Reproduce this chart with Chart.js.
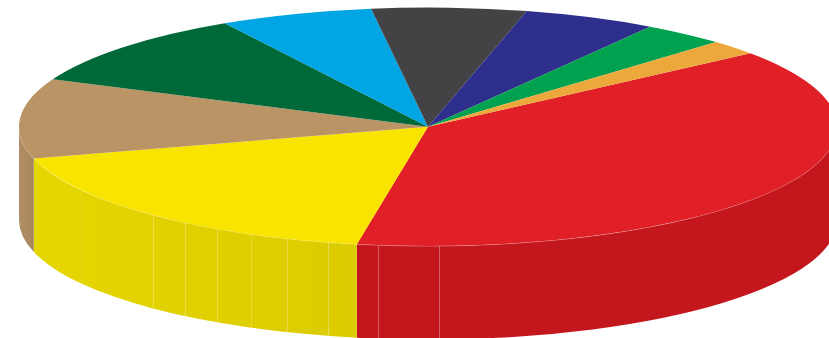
<!DOCTYPE html>
<html>
<head>
<meta charset="utf-8">
<style>
  html, body { margin: 0; padding: 0; background: #fff; overflow: hidden; }
  canvas { display: block; }
</style>
<script src="https://cdn.jsdelivr.net/npm/chart.js@4/dist/chart.umd.min.js"></script>
</head>
<body>
<canvas id="pie-3d" width="829" height="338"></canvas>
<script>
const categories = ["Slice 1", "Slice 2", "Slice 3", "Slice 4", "Slice 5", "Slice 6", "Slice 7", "Slice 8", "Slice 9"];
const shares = [38.3, 17.9, 10.8, 10.2, 6.05, 6.1, 5.25, 3.3, 2.0];
const topColors = ["#e01f26", "#f9e400", "#ba9465", "#00693a", "#00a5e3", "#434244", "#2e2f8c", "#00a24f", "#eda83c"];
const wallColors = [
  ["#c4171d", "#c4171d"],
  ["#dccb00", "#e6d600"],
  ["#a98860", "#b08e66"],
];
// vertical facet lines on the front wall, degrees clockwise from 3 o'clock
const seamAngles = [88.5, 97, 104.1, 110.1, 115.7, 121.1, 126.5, 132.2, 139.3, 148];
const seamAlphas = [0.3, 0.3, 0.3, 0.25, 0.2, 0.3, 0.3, 0.3, 0.06, 0.08];

const RADIUS = 409;
const TILT = 119.25 / 409;
const DEPTH = 93.5;

function toRad(deg) {
  return (deg * Math.PI) / 180;
}

// the front of the disc, from 0 to PI in canvas angles
function drawWalls(chart) {
  const ctx = chart.ctx;
  const arcs = chart.getDatasetMeta(0).data;
  const ry = RADIUS * TILT;

  arcs.forEach((arc, i) => {
    const wall = wallColors[i];
    if (!wall) return;
    const from = Math.max(arc.startAngle, 0);
    const to = Math.min(arc.endAngle, Math.PI);
    if (to <= from) return;

    const gradient = ctx.createLinearGradient(arc.x + RADIUS * Math.cos(from), 0, arc.x + RADIUS * Math.cos(to), 0);
    gradient.addColorStop(0, wall[0]);
    gradient.addColorStop(1, wall[1]);

    ctx.beginPath();
    ctx.ellipse(arc.x, arc.y, RADIUS, ry, 0, from, to);
    ctx.ellipse(arc.x, arc.y + DEPTH, RADIUS, ry, 0, to, from, true);
    ctx.closePath();
    ctx.fillStyle = gradient;
    ctx.fill();
  });

  const { x, y } = arcs[0];
  ctx.lineWidth = 1;
  seamAngles.forEach((deg, i) => {
    const a = toRad(deg);
    const sx = Math.round(x + RADIUS * Math.cos(a)) + 0.5;
    const sy = y + ry * Math.sin(a);
    ctx.beginPath();
    ctx.moveTo(sx, sy);
    ctx.lineTo(sx, sy + DEPTH);
    ctx.strokeStyle = `rgba(255,255,255,${seamAlphas[i]})`;
    ctx.stroke();
  });

  // pale rim where the wall meets the top face
  ctx.beginPath();
  ctx.ellipse(x, y, RADIUS, ry, 0, 0, Math.PI);
  ctx.strokeStyle = "rgba(255,255,255,0.4)";
  ctx.lineWidth = 1;
  ctx.stroke();
}

const tiltPlugin = {
  id: "tilt",
  beforeDatasetsDraw(chart) {
    const ctx = chart.ctx;
    const { y } = chart.getDatasetMeta(0).data[0];
    drawWalls(chart);
    // squash the flat pie into an ellipse around its own centre
    ctx.save();
    ctx.translate(0, y);
    ctx.scale(1, TILT);
    ctx.translate(0, -y);
  },
  afterDatasetsDraw(chart) {
    chart.ctx.restore();
  },
};

new Chart(document.getElementById("pie-3d"), {
  type: "pie",
  data: {
    labels: categories,
    datasets: [
      {
        data: shares,
        backgroundColor: topColors,
        borderWidth: 0,
        clip: false,
      },
    ],
  },
  options: {
    responsive: false,
    animation: false,
    events: [],
    rotation: 52,
    radius: RADIUS,
    layout: {
      padding: { left: 27, bottom: 84.5 },
    },
    plugins: {
      legend: { display: false },
      tooltip: { enabled: false },
    },
  },
  plugins: [tiltPlugin],
});
</script>
</body>
</html>
